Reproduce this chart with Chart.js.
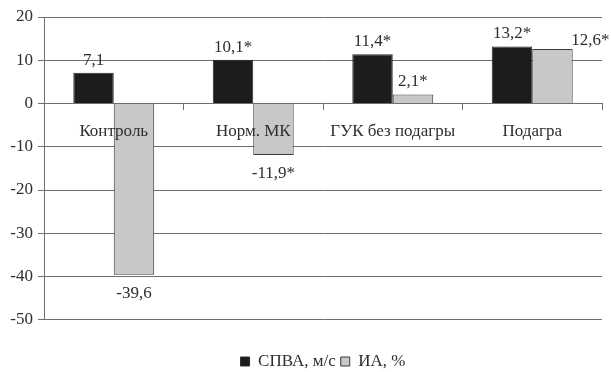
<!DOCTYPE html>
<html>
<head>
<meta charset="utf-8">
<script src="https://cdn.jsdelivr.net/npm/chart.js@4"></script>
<style>
  html, body { margin: 0; padding: 0; background: #fff; }
  #wrap { width: 611px; height: 372px; }
</style>
</head>
<body>
<div id="wrap"><canvas id="grafico" width="611" height="372"></canvas></div>
<script>
const categorias = ["Контроль", "Норм. МК", "ГУК без подагры", "Подагра"];
const spva = [7.1, 10.1, 11.4, 13.2];
const ia = [-39.6, -11.9, 2.1, 12.6];
// * = статистически значимо
const spvaZvezda = [false, true, true, true];
const iaZvezda = [false, true, true, true];
const yTicks = [20, 10, 0, -10, -20, -30, -40, -50];

const TEXTO = "#2e2e2e";
const LINHA = "#6e6e6e";
const FONTE = "'Liberation Serif', 'DejaVu Serif', serif";

function rotulo(v, z) {
  return String(v).replace(".", ",") + (z ? "*" : "");
}

/* rotulos dos valores */
const rotulosPlugin = {
  id: "rotulos",
  afterDatasetsDraw(chart) {
    const ctx = chart.ctx;
    ctx.save();
    ctx.font = "17px " + FONTE;
    ctx.fillStyle = TEXTO;
    ctx.textAlign = "center";
    chart.data.datasets.forEach((ds, di) => {
      const meta = chart.getDatasetMeta(di);
      meta.data.forEach((bar, i) => {
        const v = ds.data[i];
        const txt = rotulo(v, ds.estrelas[i]);
        const off = (ds.desloc && ds.desloc[i]) || [0, 0];
        if (v >= 0) {
          ctx.textBaseline = "bottom";
          ctx.fillText(txt, bar.x + off[0], bar.y - 4 + off[1]);
        } else {
          ctx.textBaseline = "top";
          ctx.fillText(txt, bar.x + off[0], bar.y + 10 + off[1]);
        }
      });
    });
    ctx.restore();
  }
};

new Chart(document.getElementById("grafico"), {
  type: "bar",
  data: {
    labels: categorias,
    datasets: [
      {
        label: "СПВА, м/с",
        data: spva,
        estrelas: spvaZvezda,
        backgroundColor: "#1c1c1c",
        borderColor: "#2a2a2a",
        borderWidth: 1,
        categoryPercentage: 0.58,
        barPercentage: 1
      },
      {
        label: "ИА, %",
        data: ia,
        estrelas: iaZvezda,
        desloc: [null, null, null, [38, 4]],
        backgroundColor: "#c8c8c8",
        borderColor: "#3a3a3a",
        borderWidth: 1,
        categoryPercentage: 0.58,
        barPercentage: 1
      }
    ]
  },
  options: {
    responsive: false,
    animation: false,
    layout: { padding: { top: 17, right: 9, bottom: -8, left: 0 } },
    plugins: {
      tooltip: { enabled: false },
      legend: {
        position: "bottom",
        fullSize: false,
        title: {
          display: true,
          text: " ",
          font: { size: 1 },
          padding: { top: 27, bottom: 0 }
        },
        labels: {
          font: { family: FONTE, size: 17 },
          color: TEXTO,
          boxWidth: 9,
          boxHeight: 9,
          padding: 5
        }
      }
    },
    scales: {
      x: {
        position: { y: 0 },
        grid: {
          drawOnChartArea: false,
          tickLength: 6,
          color: LINHA
        },
        border: { color: LINHA, z: 1 },
        ticks: {
          font: { family: FONTE, size: 17 },
          color: TEXTO,
          padding: 12,
          z: 1
        }
      },
      y: {
        min: -50,
        max: 20,
        afterFit(scale) { scale.width = 44; },
        afterBuildTicks(scale) {
          scale.ticks = yTicks.map(v => ({ value: v }));
        },
        grid: {
          color: LINHA,
          tickLength: 6
        },
        border: { color: LINHA },
        ticks: {
          font: { family: FONTE, size: 17 },
          color: TEXTO,
          padding: 5
        }
      }
    }
  },
  plugins: [rotulosPlugin]
});
</script>
</body>
</html>
